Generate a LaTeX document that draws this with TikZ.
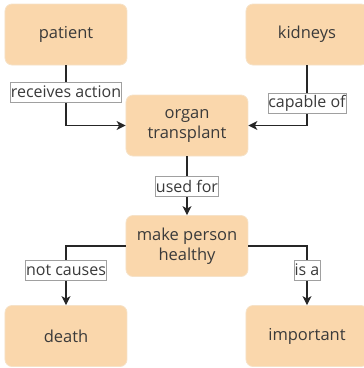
\documentclass[tikz,border=0pt]{standalone}
\usepackage{fontspec}
\setmainfont{Open Sans}
\usetikzlibrary{arrows.meta}
\definecolor{boxfill}{HTML}{FAD7AC}
\definecolor{boxline}{HTML}{F6E2C8}
\definecolor{txt}{HTML}{3A3A3A}
\definecolor{lblline}{HTML}{A0A0A0}
\begin{document}
\begin{tikzpicture}[x=1pt,y=-1pt,
  concept/.style={draw=boxline, line width=0.8pt, fill=boxfill, rounded corners=7pt,
    minimum width=122pt, minimum height=61pt, align=center, text=txt,
    font=\fontsize{16.5}{20}\selectfont, inner sep=0pt},
  lbl/.style={draw=lblline, line width=0.5pt, fill=white, text=txt, inner xsep=0.5pt, inner ysep=0pt,
    font=\fontsize{16}{17}\selectfont, minimum height=20pt},
  conn/.style={draw=black!85, line width=1.2pt, -{Stealth[length=9pt,width=9pt,inset=2.5pt]}}]
\useasboundingbox (0,0) rectangle (364,368);
\node[concept] (patient) at (66,34.5) {patient};
\node[concept] (kidneys) at (307,34.5) {kidneys};
\node[concept] (organ) at (187,125.5) {organ\\transplant};
\node[concept] (health) at (187,246) {make person\\healthy};
\node[concept] (death) at (66,336) {death};
\node[concept] (important) at (307,336) {important};
\coordinate (c1) at (66,125.5);
\coordinate (c2) at (307,125.5);
\coordinate (c3) at (66,246);
\coordinate (c4) at (307,246);
\draw[conn] (patient.south) -- (c1) -- (organ.west);
\draw[conn] (kidneys.south) -- (c2) -- (organ.east);
\draw[conn] (organ.south) -- (health.north);
\draw[conn] (health.west) -- (c3) -- (death.north);
\draw[conn] (health.east) -- (c4) -- (important.north);
\node[lbl] (l1) at (66,92) {receives action};
\node[lbl] (l2) at (307,103) {capable of};
\node[lbl] (l3) at (187,186) {used for};
\node[lbl] (l4) at (66,270) {not causes};
\node[lbl] (l5) at (307,270) {is a};
\end{tikzpicture}
\end{document}
